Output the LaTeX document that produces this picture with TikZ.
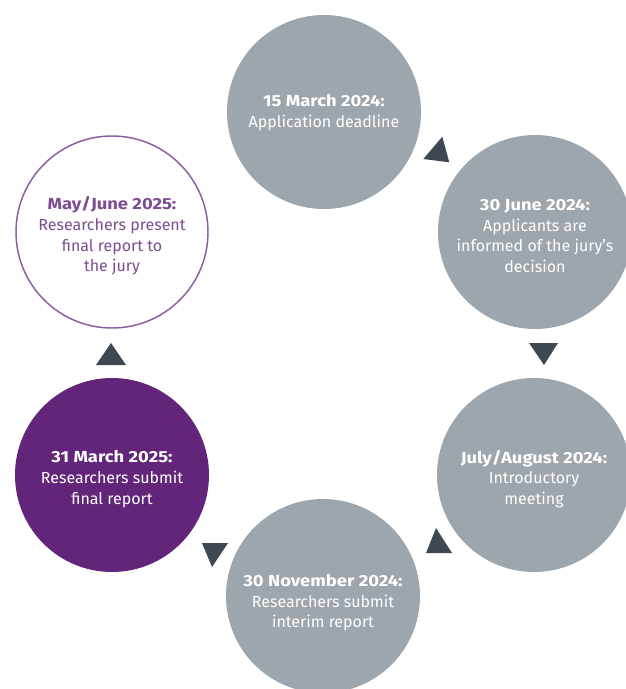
\documentclass[tikz,border=0pt]{standalone}
\usepackage{fontspec}
\setmainfont{Fira Sans}
\newfontfamily\headfont[FakeStretch=1.15]{Fira Sans}

\definecolor{stagegrey}{RGB}{158,166,173}
\definecolor{stagepurple}{RGB}{98,37,122}
\definecolor{lightpurple}{RGB}{140,92,162}
\definecolor{textpurple}{RGB}{125,76,146}
\definecolor{tridark}{RGB}{62,72,82}

\newcommand{\stagehead}[1]{{\headfont\bfseries #1}}

\tikzset{every picture/.style={line width=0.75pt}}
\tikzset{
  stage/.style={circle, draw=none, minimum size=145.5pt, inner sep=0pt},
  stagetext/.style={align=center, inner sep=0.75pt, font=\fontsize{12}{15.5}\selectfont},
  arrowtri/.style={fill=tridark, draw=none}
}

\begin{document}
\begin{tikzpicture}[x=0.75pt,y=0.75pt,yscale=-1,xscale=1]
\useasboundingbox (0,0) rectangle (625,689);

%Shape: Circle [id:deadline]
\node [stage, fill=stagegrey] (deadline) at (324,112) {};
%Shape: Circle [id:informed]
\node [stage, fill=stagegrey] (informed) at (535,232) {};
%Shape: Circle [id:meeting]
\node [stage, fill=stagegrey] (meeting) at (534,475) {};
%Shape: Circle [id:interim]
\node [stage, fill=stagegrey] (interim) at (323,596) {};
%Shape: Circle [id:final]
\node [stage, fill=stagepurple] (final) at (112,475) {};
%Shape: Circle [id:present]
\node [stage, draw=lightpurple, line width=1.1pt, fill=white, minimum size=144pt] (present) at (112,232) {};

%Shape: Triangle
\fill [arrowtri] (442.3,136.7) -- (423.3,159) -- (449.3,162.3) -- cycle ;
%Shape: Triangle
\fill [arrowtri] (529,343) -- (558,343) -- (544,365) -- cycle ;
%Shape: Triangle
\fill [arrowtri] (436,528) -- (426,553) -- (452,553) -- cycle ;
%Shape: Triangle
\fill [arrowtri] (202,543) -- (228,543) -- (212,567) -- cycle ;
%Shape: Triangle
\fill [arrowtri] (111,343) -- (96,365) -- (126,365) -- cycle ;

% Text Node
\node [stagetext, text=white] (deadlinetxt) at ([yshift=0.5pt]deadline.center) {\stagehead{15 March 2024:}\\Application deadline};
% Text Node
\node [stagetext, text=white] (informedtxt) at ([yshift=3pt]informed.center) {\stagehead{30 June 2024:}\\Applicants are\\informed of the jury’s\\decision};
% Text Node
\node [stagetext, text=white] (meetingtxt) at ([yshift=3pt]meeting.center) {\stagehead{July/August 2024:}\\Introductory\\meeting};
% Text Node
\node [stagetext, text=white] (interimtxt) at ([yshift=5pt]interim.center) {\stagehead{30 November 2024:}\\Researchers submit\\interim report};
% Text Node
\node [stagetext, text=white] (finaltxt) at ([yshift=3pt]final.center) {\stagehead{31 March 2025:}\\Researchers submit\\final report};
% Text Node
\node [stagetext, text=textpurple] (presenttxt) at ([yshift=3pt]present.center) {\stagehead{May/June 2025:}\\Researchers present\\final report to\\the jury};

\end{tikzpicture}
\end{document}
